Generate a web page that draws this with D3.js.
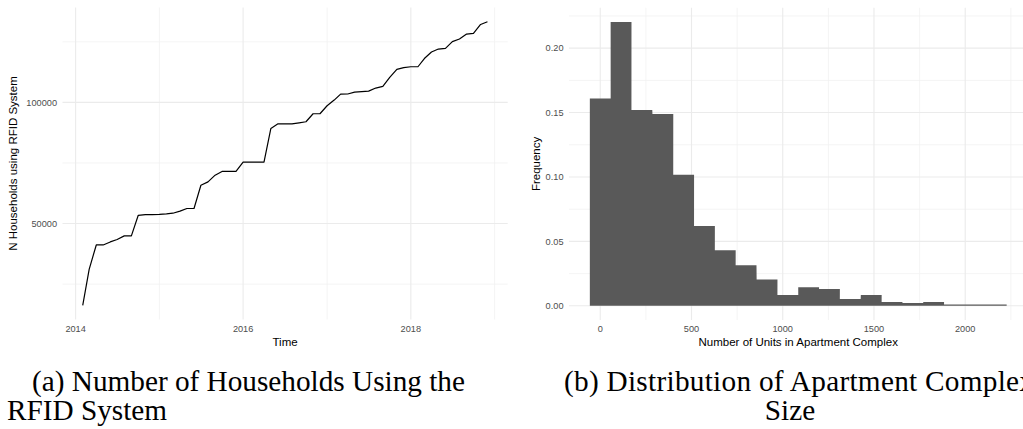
<!DOCTYPE html>
<html>
<head>
<meta charset="utf-8">
<script src="https://cdn.jsdelivr.net/npm/d3@7"></script>
<style>
  body { margin: 0; background: #fff; }
  svg { display: block; }
</style>
</head>
<body>
<div id="figure"></div>
<script>
// panel (a): households on the RFID system, one value per month from Feb 2014
const hhStartMonth = "2014-02";
const households = [
  16240, 31100, 41150, 41150, 42400, 43400, 44900, 44900, 53400, 53700, 53700,
  53750, 53950, 54250, 55100, 56200, 56200, 65800, 67200, 69950, 71500, 71500, 71500,
  75350, 75350, 75350, 75350, 89250, 91150, 91150, 91150, 91550, 92000, 95300, 95300,
  98600, 100950, 103400, 103450, 104250, 104450, 104650, 105900, 106600, 110300, 113650, 114350,
  114700, 114700, 118100, 120800, 122000, 122300, 125050, 126150, 128200, 128500, 132150, 133300
];
const hhYearTicks = [2014, 2016, 2018];
const hhYearMinor = [2015, 2017, 2019];
const hhYTicks = [50000, 100000];
const hhYMinor = [25000, 75000, 125000];

// panel (b): histogram of complex sizes
const binCenters = [0, 114, 228, 343, 457, 571, 685, 799, 914, 1028,
  1142, 1256, 1370, 1485, 1599, 1713, 1827, 1941, 2056, 2170];
const binWidth = 114.2;
const frequency = [0.161, 0.2203, 0.152, 0.1488, 0.1017, 0.0619, 0.0432, 0.0314, 0.0205, 0.0084,
  0.0145, 0.013, 0.0052, 0.0083, 0.0029, 0.0021, 0.0029, 0.0011, 0.0011, 0.0011];
const unitTicks = [0, 500, 1000, 1500, 2000];
const unitMinor = [250, 750, 1250, 1750, 2250];
const freqTicks = [0, 0.05, 0.10, 0.15, 0.20];
const freqMinor = [0.025, 0.075, 0.125, 0.175, 0.225];

const captionA = ["(a) Number of Households Using the", "RFID System"];
const captionB = ["(b) Distribution of Apartment Complex", "Size"];

(function() {
  const W = 1023, H = 429;
  const panelA = { left: 62.5, right: 507.7, top: 7.5, bottom: 319.5 };
  const panelB = { left: 569, right: 1027.5, top: 7.8, bottom: 320 };
  const tickFont = "9.2px 'Liberation Sans', Arial, sans-serif";
  const titleFont = "11.5px 'Liberation Sans', Arial, sans-serif";

  const svg = d3.select("#figure").append("svg")
    .attr("width", W)
    .attr("height", H);

  // ggplot style 5% expansion
  function expand(lo, hi) {
    const p = (hi - lo) * 0.05;
    return [lo - p, hi + p];
  }

  function grid(g, panel, xs, ys, xMaj, xMin, yMaj, yMin) {
    const lines = [
      ...xMin.map(v => ({ x: xs(v), minor: true, v: true })),
      ...yMin.map(v => ({ y: ys(v), minor: true, v: false })),
      ...xMaj.map(v => ({ x: xs(v), minor: false, v: true })),
      ...yMaj.map(v => ({ y: ys(v), minor: false, v: false }))
    ];
    g.selectAll(null)
      .data(lines)
      .enter().append("line")
      .attr("x1", d => d.v ? d.x : panel.left)
      .attr("x2", d => d.v ? d.x : panel.right)
      .attr("y1", d => d.v ? panel.top : d.y)
      .attr("y2", d => d.v ? panel.bottom : d.y)
      .attr("stroke", d => d.minor ? "#F1F1F1" : "#EBEBEB")
      .attr("stroke-width", d => d.minor ? 0.8 : 1.1);
  }

  // ---------- panel (a) ----------
  const t0 = d3.timeParse("%Y-%m")(hhStartMonth);
  const hhData = households.map((v, i) => ({ date: d3.timeMonth.offset(t0, i), value: v }));
  const tExt = d3.extent(hhData, d => +d.date);
  const xA = d3.scaleTime()
    .domain(expand(tExt[0], tExt[1]).map(t => new Date(t)))
    .range([panelA.left, panelA.right]);
  const yA = d3.scaleLinear()
    .domain(expand(d3.min(households), d3.max(households)))
    .range([panelA.bottom, panelA.top]);
  const yearDate = y => new Date(y, 0, 1);

  const gA = svg.append("g");
  grid(gA, panelA, v => xA(yearDate(v)), yA, hhYearTicks, hhYearMinor, hhYTicks, hhYMinor);

  gA.append("path")
    .datum(hhData)
    .attr("fill", "none")
    .attr("stroke", "#000")
    .attr("stroke-width", 1.2)
    .attr("stroke-linejoin", "round")
    .attr("d", d3.line().x(d => xA(d.date)).y(d => yA(d.value)));

  gA.selectAll(".xlab")
    .data(hhYearTicks)
    .enter().append("text")
    .attr("x", d => xA(yearDate(d)))
    .attr("y", 329)
    .attr("dy", "0.35em")
    .attr("text-anchor", "middle")
    .style("font", tickFont)
    .attr("fill", "#4D4D4D")
    .text(String);

  gA.selectAll(".ylab")
    .data(hhYTicks)
    .enter().append("text")
    .attr("x", panelA.left - 5.5)
    .attr("y", d => yA(d))
    .attr("dy", "0.35em")
    .attr("text-anchor", "end")
    .style("font", tickFont)
    .attr("fill", "#4D4D4D")
    .text(d3.format("d"));

  gA.append("text")
    .attr("x", (panelA.left + panelA.right) / 2)
    .attr("y", 342.3)
    .attr("dy", "0.35em")
    .attr("text-anchor", "middle")
    .style("font", titleFont)
    .text("Time");

  gA.append("text")
    .attr("transform", "translate(13," + (panelA.top + panelA.bottom) / 2 + ") rotate(-90)")
    .attr("dy", "0.35em")
    .attr("text-anchor", "middle")
    .style("font", titleFont)
    .text("N Households using RFID System");

  // ---------- panel (b) ----------
  const bins = binCenters.map((c, i) => ({ x0: c - binWidth / 2, x1: c + binWidth / 2, f: frequency[i] }));
  const xB = d3.scaleLinear()
    .domain(expand(bins[0].x0, bins[bins.length - 1].x1))
    .range([panelB.left, panelB.right]);
  const yB = d3.scaleLinear()
    .domain(expand(0, d3.max(frequency)))
    .range([panelB.bottom, panelB.top]);

  const gB = svg.append("g");
  grid(gB, panelB, xB, yB, unitTicks, unitMinor, freqTicks, freqMinor);

  // histogram drawn as one outline (step shape) so there are no seams between bars
  const barPath = d3.path();
  barPath.moveTo(xB(bins[0].x0), yB(0));
  bins.forEach(d => {
    barPath.lineTo(xB(d.x0), yB(d.f));
    barPath.lineTo(xB(d.x1), yB(d.f));
  });
  barPath.lineTo(xB(bins[bins.length - 1].x1), yB(0));
  barPath.closePath();
  gB.append("path")
    .attr("d", barPath.toString())
    .attr("fill", "#595959");

  gB.selectAll(".xlab")
    .data(unitTicks)
    .enter().append("text")
    .attr("x", d => xB(d))
    .attr("y", 329)
    .attr("dy", "0.35em")
    .attr("text-anchor", "middle")
    .style("font", tickFont)
    .attr("fill", "#4D4D4D")
    .text(String);

  gB.selectAll(".ylab")
    .data(freqTicks)
    .enter().append("text")
    .attr("x", panelB.left - 5.5)
    .attr("y", d => yB(d))
    .attr("dy", "0.35em")
    .attr("text-anchor", "end")
    .style("font", tickFont)
    .attr("fill", "#4D4D4D")
    .text(d3.format(".2f"));

  gB.append("text")
    .attr("x", (panelB.left + panelB.right) / 2)
    .attr("y", 342.3)
    .attr("dy", "0.35em")
    .attr("text-anchor", "middle")
    .style("font", titleFont)
    .text("Number of Units in Apartment Complex");

  gB.append("text")
    .attr("transform", "translate(536," + (panelB.top + panelB.bottom) / 2 + ") rotate(-90)")
    .attr("dy", "0.35em")
    .attr("text-anchor", "middle")
    .style("font", titleFont)
    .text("Frequency");

  // ---------- captions (LaTeX-like serif) ----------
  const capFamily = "'Liberation Serif', 'Times New Roman', serif";
  const probe = svg.append("text")
    .style("font-family", capFamily)
    .style("font-size", "100px")
    .text(captionA[0]);
  const capSize = 100 * 433 / probe.node().getComputedTextLength();
  probe.remove();

  function caption(x1, x2, anchor2, lines, len1) {
    const first = svg.append("text")
      .attr("x", x1)
      .attr("y", 391)
      .style("font-family", capFamily)
      .style("font-size", capSize + "px")
      .attr("fill", "#000")
      .text(lines[0]);
    if (len1) first.attr("textLength", len1).attr("lengthAdjust", "spacing");
    svg.append("text")
      .attr("x", x2)
      .attr("y", 420)
      .attr("text-anchor", anchor2)
      .style("font-family", capFamily)
      .style("font-size", capSize + "px")
      .attr("fill", "#000")
      .text(lines[1]);
  }
  caption(32, 7, "start", captionA, null);
  // in the source the (b) caption runs past the right edge
  caption(564, 790, "middle", captionB, 470);
})();
</script>
</body>
</html>
